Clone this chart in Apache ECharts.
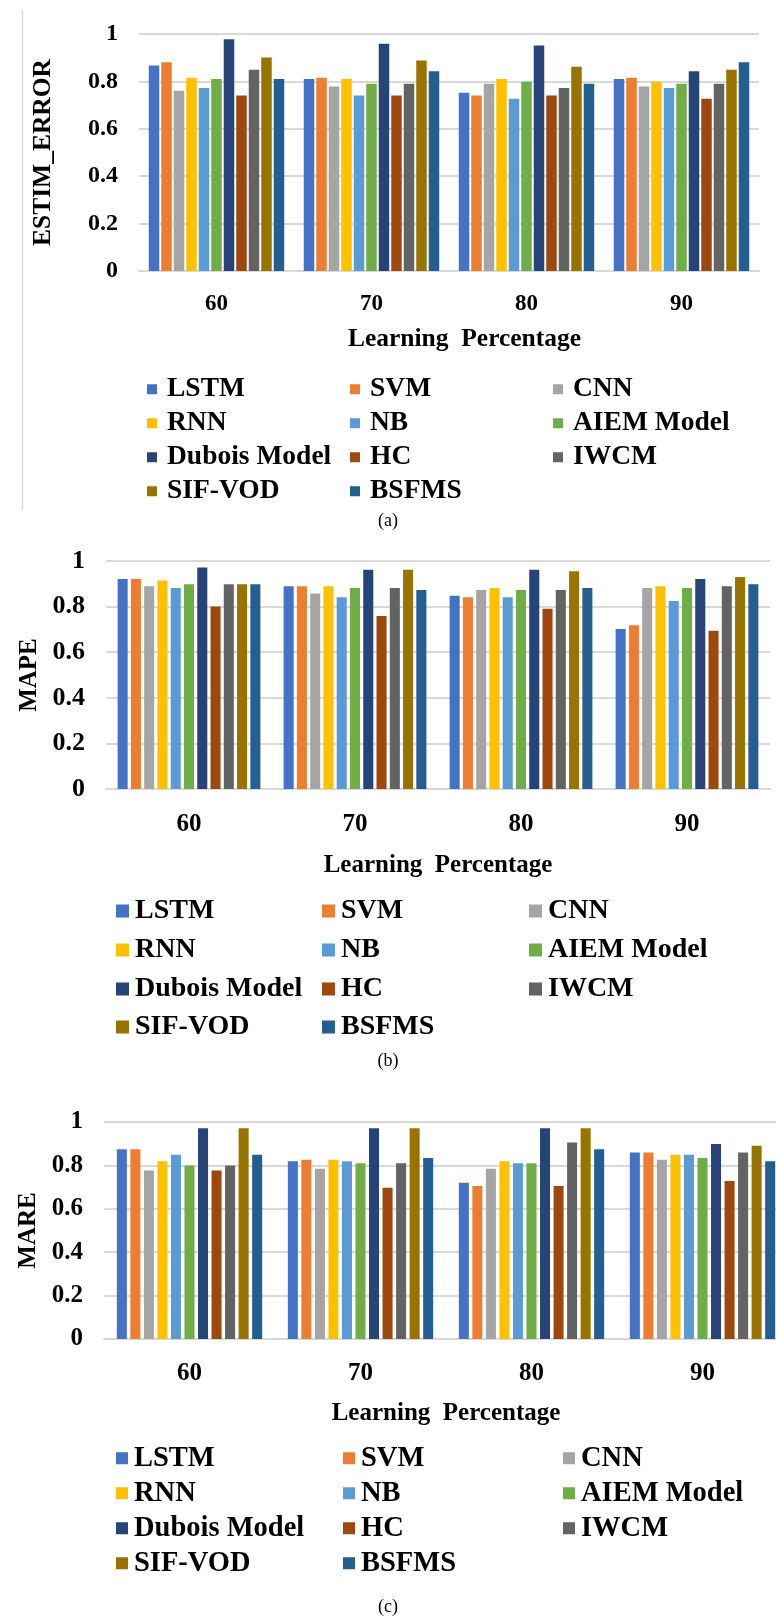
<!DOCTYPE html>
<html><head><meta charset="utf-8">
<script src="https://cdn.jsdelivr.net/npm/echarts@6/dist/echarts.min.js"></script>
<style>html,body{margin:0;padding:0;background:#fff}#c{width:776px;height:1619px}</style>
</head><body><div id="c"></div>
<script>
const categories = ['60', '70', '80', '90'];
const methods = ['LSTM', 'SVM', 'CNN', 'RNN', 'NB', 'AIEM Model', 'Dubois Model', 'HC', 'IWCM', 'SIF-VOD', 'BSFMS'];
const colors = ['#4472C4', '#ED7D31', '#A5A5A5', '#FFC000', '#5B9BD5', '#70AD47', '#264478', '#9E480E', '#636363', '#997300', '#255E91'];
const yTicks = [0, 0.2, 0.4, 0.6, 0.8, 1];

// (a) ESTIM_ERROR — values per learning percentage, in method order
const estim60 = [0.867, 0.881, 0.761, 0.815, 0.772, 0.810, 0.978, 0.740, 0.849, 0.901, 0.810];
const estim70 = [0.810, 0.815, 0.779, 0.810, 0.740, 0.790, 0.959, 0.740, 0.790, 0.888, 0.843];
const estim80 = [0.752, 0.740, 0.790, 0.810, 0.727, 0.799, 0.952, 0.740, 0.772, 0.862, 0.790];
const estim90 = [0.810, 0.815, 0.779, 0.799, 0.772, 0.790, 0.843, 0.727, 0.790, 0.849, 0.881];

// (b) MAPE
const mape60 = [0.921, 0.921, 0.889, 0.914, 0.882, 0.898, 0.971, 0.800, 0.898, 0.898, 0.898];
const mape70 = [0.889, 0.889, 0.858, 0.889, 0.841, 0.882, 0.962, 0.759, 0.882, 0.962, 0.873];
const mape80 = [0.848, 0.841, 0.873, 0.882, 0.841, 0.873, 0.962, 0.791, 0.873, 0.955, 0.882];
const mape90 = [0.702, 0.718, 0.882, 0.889, 0.825, 0.882, 0.921, 0.694, 0.889, 0.930, 0.898];

// (c) MARE
const mare60 = [0.874, 0.874, 0.777, 0.819, 0.849, 0.800, 0.971, 0.777, 0.800, 0.971, 0.849];
const mare70 = [0.819, 0.826, 0.785, 0.826, 0.819, 0.810, 0.971, 0.697, 0.810, 0.971, 0.834];
const mare80 = [0.720, 0.705, 0.785, 0.819, 0.810, 0.810, 0.971, 0.705, 0.906, 0.971, 0.874];
const mare90 = [0.859, 0.859, 0.826, 0.849, 0.849, 0.834, 0.899, 0.728, 0.859, 0.891, 0.819];

const FONT = '"Liberation Serif", "Times New Roman", serif';

const panels = [
  { yName: 'ESTIM_ERROR', groups: [estim60, estim70, estim80, estim90], caption: '(a)',
    grid: { left: 139, top: 34, width: 620, height: 237 }, catGap: '12.6%', barGap: '19%',
    yNameGap: 83, tickSize: 24, catSize: 23, nameSize: 25.5, catMargin: 22, xNameGap: 55, xNameShift: 31,
    legendSize: 27.5, markerSize: 10, textGap: 5, legendCols: [147, 350, 553], legendRows: [390, 424, 458, 492], captionY: 522 },
  { yName: 'MAPE', groups: [mape60, mape70, mape80, mape90], caption: '(b)',
    grid: { left: 106, top: 561, width: 664, height: 228 }, catGap: '14%', barGap: '32%',
    yNameGap: 64, tickSize: 26, catSize: 25, nameSize: 25, catMargin: 23, xNameGap: 64, xNameShift: 0,
    legendSize: 28, markerSize: 13, textGap: 1, legendCols: [116, 322, 529], legendRows: [912, 951, 990, 1028], captionY: 1062 },
  { yName: 'MARE', groups: [mare60, mare70, mare80, mare90], caption: '(c)',
    grid: { left: 104, top: 1122, width: 684, height: 217 }, catGap: '15%', barGap: '35%',
    yNameGap: 63, tickSize: 25, catSize: 25, nameSize: 25, catMargin: 22, xNameGap: 62, xNameShift: 0,
    legendSize: 28.5, markerSize: 12, textGap: 1, legendCols: [116, 343, 563], legendRows: [1459, 1494, 1529, 1564], captionY: 1608 }
];

const option = { animation: false, backgroundColor: '#fff', grid: [], xAxis: [], yAxis: [], series: [], legend: [], graphic: [] };

panels.forEach((p, pi) => {
  option.grid.push(Object.assign({ containLabel: false, outerBoundsMode: 'none' }, p.grid));
  option.xAxis.push({
    type: 'category', gridIndex: pi, data: categories,
    name: 'Learning  Percentage', nameLocation: 'middle', nameGap: p.xNameGap, nameMoveOverlap: false,
    nameTextStyle: { fontFamily: FONT, fontWeight: 'bold', fontSize: p.nameSize, color: '#000', padding: [0, 0, 0, p.xNameShift] },
    axisLine: { show: true, lineStyle: { color: '#D9D9D9', width: 2 } },
    axisTick: { show: false },
    axisLabel: { fontFamily: FONT, fontWeight: 'bold', fontSize: p.catSize, color: '#000', margin: p.catMargin }
  });
  option.yAxis.push({
    type: 'value', gridIndex: pi, min: yTicks[0], max: yTicks[yTicks.length - 1], interval: 0.2,
    name: p.yName, nameLocation: 'middle', nameGap: p.yNameGap, nameRotate: 90, nameMoveOverlap: false,
    nameTextStyle: { fontFamily: FONT, fontWeight: 'bold', fontSize: p.nameSize, color: '#000' },
    axisLine: { show: false }, axisTick: { show: false },
    splitLine: { lineStyle: { color: '#D9D9D9', width: 2 } },
    axisLabel: { fontFamily: FONT, fontWeight: 'bold', fontSize: p.tickSize, color: '#000', margin: 21,
      formatter: v => String(Math.round(v * 10) / 10) }
  });
  methods.forEach((m, mi) => {
    option.series.push({
      type: 'bar', name: m, xAxisIndex: pi, yAxisIndex: pi,
      data: p.groups.map(g => g[mi]),
      itemStyle: { color: colors[mi] },
      barGap: p.barGap, barCategoryGap: p.catGap
    });
    const col = mi % 3, row = Math.floor(mi / 3);
    option.legend.push({
      data: [{ name: m, icon: 'rect' }],
      left: p.legendCols[col], top: p.legendRows[row] - p.legendSize / 2 - 1,
      itemWidth: p.markerSize, itemHeight: p.markerSize, itemGap: 0, padding: 0, selectedMode: false,
      textStyle: { fontFamily: FONT, fontWeight: 'bold', fontSize: p.legendSize, color: '#000', padding: [0, 0, 0, p.textGap] }
    });
  });
  option.graphic.push({
    type: 'text', left: 'center', top: p.captionY - 10,
    style: { text: p.caption, font: '18px ' + FONT, fill: '#000' }
  });
});

option.graphic.push({ type: 'line', shape: { x1: 22.5, y1: 10, x2: 22.5, y2: 510 }, style: { stroke: '#D9D9D9', lineWidth: 1.5 } });

const chart = echarts.init(document.getElementById('c'), null, { renderer: 'canvas' });
chart.setOption(option);
</script></body></html>
